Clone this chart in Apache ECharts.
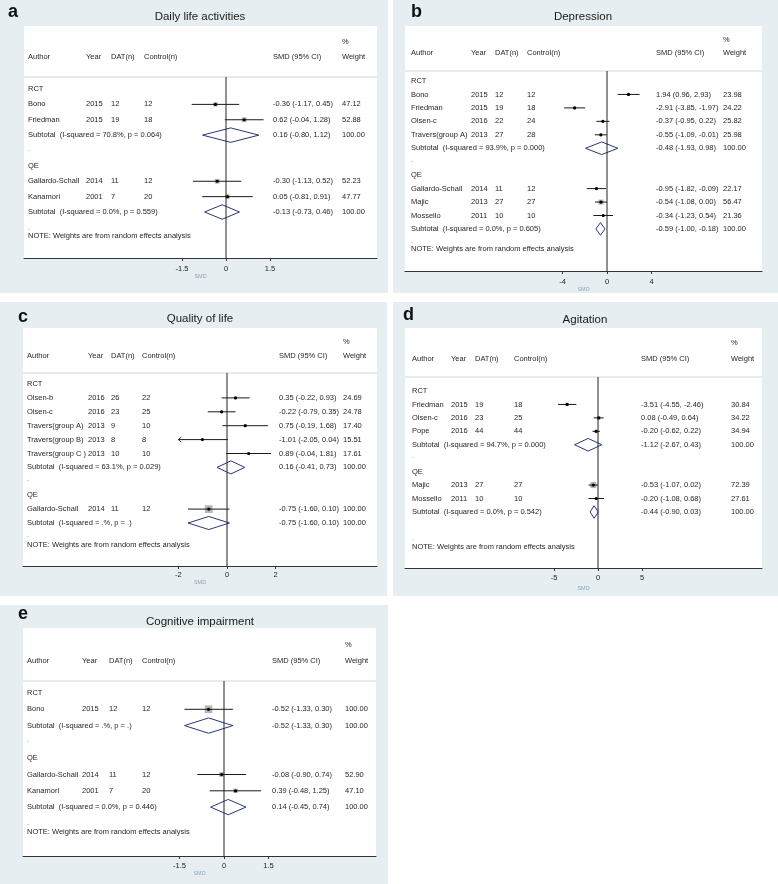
<!DOCTYPE html>
<html><head><meta charset="utf-8">
<script src="https://cdn.jsdelivr.net/npm/echarts@6/dist/echarts.min.js"></script>
<style>html,body{margin:0;padding:0;background:#fff}#c{width:778px;height:884px}</style>
</head><body><div id="c"></div>
<script>
// ---------------- DATA ----------------
const designs = ['RCT', 'QE'];
const panelTitles = ['Daily life activities', 'Depression', 'Quality of life', 'Agitation', 'Cognitive impairment'];
const panelLetters = ['a', 'b', 'c', 'd', 'e'];

// a) Daily life activities
const dailyAuthor = ['Bono', 'Friedman', 'Gallardo-Schall', 'Kanamori'];
const dailyDesign = ['RCT', 'RCT', 'QE', 'QE'];
const dailyYear = [2015, 2015, 2014, 2001];
const dailyDAT = [12, 19, 11, 7];
const dailyCtrl = [12, 18, 12, 20];
const dailySMD = [-0.36, 0.62, -0.30, 0.05];
const dailyLo = [-1.17, -0.04, -1.13, -0.81];
const dailyHi = [0.45, 1.28, 0.52, 0.91];
const dailyWeight = [47.12, 52.88, 52.23, 47.77];
const dailySubSMD = [0.16, -0.13];
const dailySubLo = [-0.80, -0.73];
const dailySubHi = [1.12, 0.46];
const dailySubI2 = [70.8, 0.0];
const dailySubP = [0.064, 0.559];
const dailyTicks = [-1.5, 0, 1.5];

// b) Depression
const depAuthor = ['Bono', 'Friedman', 'Olsen-c', 'Travers(group A)', 'Gallardo-Schall', 'Majic', 'Mossello'];
const depDesign = ['RCT', 'RCT', 'RCT', 'RCT', 'QE', 'QE', 'QE'];
const depYear = [2015, 2015, 2016, 2013, 2014, 2013, 2011];
const depDAT = [12, 19, 22, 27, 11, 27, 10];
const depCtrl = [12, 18, 24, 28, 12, 27, 10];
const depSMD = [1.94, -2.91, -0.37, -0.55, -0.95, -0.54, -0.34];
const depLo = [0.96, -3.85, -0.95, -1.09, -1.82, -1.08, -1.23];
const depHi = [2.93, -1.97, 0.22, -0.01, -0.09, 0.00, 0.54];
const depWeight = [23.98, 24.22, 25.82, 25.98, 22.17, 56.47, 21.36];
const depSubSMD = [-0.48, -0.59];
const depSubLo = [-1.93, -1.00];
const depSubHi = [0.98, -0.18];
const depSubI2 = [93.9, 0.0];
const depSubP = [0.000, 0.605];
const depTicks = [-4, 0, 4];

// c) Quality of life
const qolAuthor = ['Olsen-b', 'Olsen-c', 'Travers(group A)', 'Travers(group B)', 'Travers(group C )', 'Gallardo-Schall'];
const qolDesign = ['RCT', 'RCT', 'RCT', 'RCT', 'RCT', 'QE'];
const qolYear = [2016, 2016, 2013, 2013, 2013, 2014];
const qolDAT = [26, 23, 9, 8, 10, 11];
const qolCtrl = [22, 25, 10, 8, 10, 12];
const qolSMD = [0.35, -0.22, 0.75, -1.01, 0.89, -0.75];
const qolLo = [-0.22, -0.79, -0.19, -2.05, -0.04, -1.60];
const qolHi = [0.93, 0.35, 1.68, 0.04, 1.81, 0.10];
const qolWeight = [24.69, 24.78, 17.40, 15.51, 17.61, 100.00];
const qolSubSMD = [0.16, -0.75];
const qolSubLo = [-0.41, -1.60];
const qolSubHi = [0.73, 0.10];
const qolSubI2 = [63.1, null];
const qolSubP = [0.029, null];
const qolTicks = [-2, 0, 2];

// d) Agitation
const agiAuthor = ['Friedman', 'Olsen-c', 'Pope', 'Majic', 'Mossello'];
const agiDesign = ['RCT', 'RCT', 'RCT', 'QE', 'QE'];
const agiYear = [2015, 2016, 2016, 2013, 2011];
const agiDAT = [19, 23, 44, 27, 10];
const agiCtrl = [18, 25, 44, 27, 10];
const agiSMD = [-3.51, 0.08, -0.20, -0.53, -0.20];
const agiLo = [-4.55, -0.49, -0.62, -1.07, -1.08];
const agiHi = [-2.46, 0.64, 0.22, 0.02, 0.68];
const agiWeight = [30.84, 34.22, 34.94, 72.39, 27.61];
const agiSubSMD = [-1.12, -0.44];
const agiSubLo = [-2.67, -0.90];
const agiSubHi = [0.43, 0.03];
const agiSubI2 = [94.7, 0.0];
const agiSubP = [0.000, 0.542];
const agiTicks = [-5, 0, 5];

// e) Cognitive impairment
const cogAuthor = ['Bono', 'Gallardo-Schall', 'Kanamori'];
const cogDesign = ['RCT', 'QE', 'QE'];
const cogYear = [2015, 2014, 2001];
const cogDAT = [12, 11, 7];
const cogCtrl = [12, 12, 20];
const cogSMD = [-0.52, -0.08, 0.39];
const cogLo = [-1.33, -0.90, -0.48];
const cogHi = [0.30, 0.74, 1.25];
const cogWeight = [100.00, 52.90, 47.10];
const cogSubSMD = [-0.52, 0.14];
const cogSubLo = [-1.33, -0.45];
const cogSubHi = [0.30, 0.74];
const cogSubI2 = [null, 0.0];
const cogSubP = [null, 0.446];
const cogTicks = [-1.5, 0, 1.5];

// ---------------- LAYOUT ----------------
const FONT = '"Liberation Sans", Arial, sans-serif';
const TXT = '#262626';
const BG = '#e6eef1';
const NAVY = '#26387a';

const layouts = [
  {bg:[0,0,388,293], left:24, right:377, top:26, axisY:258, zeroX:226, ppu:29.33, row0:89, step:15.375,
   pctY:42, headY:57, sepY:77, dotY:230, noteY:236, cols:[28,86,111,144,273,342], lblMargin:7, nameGap:15,
   letterXY:[8,12], titleXY:[200,17], clip:null},
  {bg:[393,0,385,293], left:405, right:762, top:26, axisY:271, zeroX:607, ppu:11.12, row0:81, step:13.45,
   pctY:40, headY:53, sepY:71, dotY:243, noteY:249, cols:[411,471,495,527,656,723], lblMargin:7, nameGap:12,
   letterXY:[411,12], titleXY:[583,17], clip:null},
  {bg:[0,302,387,294], left:23, right:377, top:328, axisY:566, zeroX:227, ppu:24.35, row0:384, step:13.9,
   pctY:342, headY:356, sepY:373, dotY:537, noteY:545, cols:[27,88,111,142,279,343], lblMargin:5, nameGap:13,
   letterXY:[18,317], titleXY:[200,319], clip:[-2, 2]},
  {bg:[393,302,385,294], left:405, right:762, top:328, axisY:568, zeroX:598, ppu:8.8, row0:391, step:13.44,
   pctY:343, headY:359, sepY:377, dotY:540, noteY:547, cols:[412,451,475,514,641,731], lblMargin:6, nameGap:17,
   letterXY:[403,315], titleXY:[585,320], clip:null},
  {bg:[0,605,388,279], left:23, right:376, top:628, axisY:856, zeroX:224, ppu:29.7, row0:693, step:16.3,
   pctY:645, headY:661, sepY:681, dotY:825, noteY:832, cols:[27,82,109,142,272,345], lblMargin:6, nameGap:14,
   letterXY:[18,614], titleXY:[200,622], clip:null}
];

const panelData = [
  {author:dailyAuthor, design:dailyDesign, year:dailyYear, dat:dailyDAT, ctrl:dailyCtrl, smd:dailySMD, lo:dailyLo, hi:dailyHi, w:dailyWeight,
   subSMD:dailySubSMD, subLo:dailySubLo, subHi:dailySubHi, subI2:dailySubI2, subP:dailySubP, ticks:dailyTicks},
  {author:depAuthor, design:depDesign, year:depYear, dat:depDAT, ctrl:depCtrl, smd:depSMD, lo:depLo, hi:depHi, w:depWeight,
   subSMD:depSubSMD, subLo:depSubLo, subHi:depSubHi, subI2:depSubI2, subP:depSubP, ticks:depTicks},
  {author:qolAuthor, design:qolDesign, year:qolYear, dat:qolDAT, ctrl:qolCtrl, smd:qolSMD, lo:qolLo, hi:qolHi, w:qolWeight,
   subSMD:qolSubSMD, subLo:qolSubLo, subHi:qolSubHi, subI2:qolSubI2, subP:qolSubP, ticks:qolTicks},
  {author:agiAuthor, design:agiDesign, year:agiYear, dat:agiDAT, ctrl:agiCtrl, smd:agiSMD, lo:agiLo, hi:agiHi, w:agiWeight,
   subSMD:agiSubSMD, subLo:agiSubLo, subHi:agiSubHi, subI2:agiSubI2, subP:agiSubP, ticks:agiTicks},
  {author:cogAuthor, design:cogDesign, year:cogYear, dat:cogDAT, ctrl:cogCtrl, smd:cogSMD, lo:cogLo, hi:cogHi, w:cogWeight,
   subSMD:cogSubSMD, subLo:cogSubLo, subHi:cogSubHi, subI2:cogSubI2, subP:cogSubP, ticks:cogTicks}
];

// ---------------- BUILD ----------------
const f2 = v => v.toFixed(2);
const ciText = (e, l, h) => f2(e) + ' (' + f2(l) + ', ' + f2(h) + ')';

function buildItems(d) {
  const items = [];
  let r = 0;
  designs.forEach((g, gi) => {
    if (gi > 0) { items.push({kind:'dot', row:r}); r++; }
    items.push({kind:'group', row:r, text:g}); r++;
    d.design.forEach((des, i) => { if (des === g) { items.push({kind:'study', row:r, i:i}); r++; } });
    items.push({kind:'sub', row:r, gi:gi}); r++;
  });
  items.push({kind:'frame', row:0});
  items.push({kind:'header', row:0});
  items.push({kind:'note', row:0});
  return items;
}

const grids = [], xAxes = [], yAxes = [], series = [], graphics = [];

layouts.forEach((P, k) => {
  const d = panelData[k];
  const items = buildItems(d);
  const xmin = (P.left - P.zeroX) / P.ppu;
  const xmax = (P.right - P.zeroX) / P.ppu;
  const rowOf = py => (py - P.row0) / P.step;
  const ymin = rowOf(P.top), ymax = rowOf(P.axisY);

  graphics.push({type:'rect', shape:{x:P.bg[0], y:P.bg[1], width:P.bg[2], height:P.bg[3]}, style:{fill:BG}, z:-20});
  graphics.push({type:'rect', shape:{x:P.left, y:P.top, width:P.right-P.left, height:P.axisY-P.top}, style:{fill:'#ffffff'}, z:-19});
  graphics.push({type:'text', x:P.letterXY[0], y:P.letterXY[1], style:{text:panelLetters[k], font:'bold 18px ' + FONT, fill:'#111', align:'left', verticalAlign:'middle'}, z:5});
  graphics.push({type:'text', x:P.titleXY[0], y:P.titleXY[1], style:{text:panelTitles[k], font:'11.5px ' + FONT, fill:'#1a1a1a', align:'center', verticalAlign:'middle'}, z:5});

  grids.push({left:P.left, top:P.top, width:P.right-P.left, height:P.axisY-P.top, containLabel:false, show:false});
  xAxes.push({
    gridIndex:k, type:'value', min:xmin, max:xmax, position:'bottom',
    axisLine:{show:true, onZero:false, lineStyle:{color:'#333', width:1}},
    axisTick:{show:true, customValues:d.ticks, length:3, lineStyle:{color:'#333'}},
    axisLabel:{customValues:d.ticks, fontSize:7.5, fontFamily:FONT, color:'#222', margin:P.lblMargin},
    splitLine:{show:false},
    name:'SMD', nameLocation:'middle', nameGap:P.nameGap,
    nameTextStyle:{fontSize:5.5, fontFamily:FONT, color:'#8ea6b9'}
  });
  yAxes.push({gridIndex:k, type:'value', inverse:true, min:ymin, max:ymax, show:false});

  const C = P.cols;
  series.push({
    type:'custom', xAxisIndex:k, yAxisIndex:k, clip:false, silent:true,
    data: items.map(it => [0, it.row]),
    renderItem: function (params, api) {
      const it = items[params.dataIndex];
      const Y = row => api.coord([0, row])[1];
      const X = v => api.coord([v, 0])[0];
      const els = [];
      const txt = (s, x, y, extra) => els.push({type:'text', style:Object.assign({text:String(s), x:x, y:y, fill:TXT, font:'7.5px ' + FONT, align:'left', verticalAlign:'middle'}, extra || {})});
      const line = (x1, y1, x2, y2, color, w) => els.push({type:'line', shape:{x1:x1, y1:y1, x2:x2, y2:y2}, style:{stroke:color || '#111', lineWidth:w || 1}});
      if (it.kind === 'header') {
        txt('%', C[5], Y(rowOf(P.pctY)));
        const hy = Y(rowOf(P.headY));
        txt('Author', C[0], hy); txt('Year', C[1], hy); txt('DAT(n)', C[2], hy);
        txt('Control(n)', C[3], hy); txt('SMD (95% CI)', C[4], hy); txt('Weight', C[5], hy);
      } else if (it.kind === 'frame') {
        const sy = Y(rowOf(P.sepY));
        line(X(xmin), sy, X(xmax), sy, '#d3d6d8', 1.2);
        line(X(0), sy, X(0), Y(ymax), '#222', 1);
      } else if (it.kind === 'note') {
        txt('.', C[0], Y(rowOf(P.dotY)) - 2, {fill:'#777'});
        txt('NOTE: Weights are from random effects analysis', C[0], Y(rowOf(P.noteY)));
      } else if (it.kind === 'dot') {
        txt('.', C[0], Y(it.row) - 2, {fill:'#777'});
      } else if (it.kind === 'group') {
        txt(it.text, C[0], Y(it.row));
      } else if (it.kind === 'study') {
        const i = it.i, y = Y(it.row);
        txt(d.author[i], C[0], y); txt(d.year[i], C[1], y); txt(d.dat[i], C[2], y); txt(d.ctrl[i], C[3], y);
        txt(ciText(d.smd[i], d.lo[i], d.hi[i]), C[4], y); txt(f2(d.w[i]), C[5], y);
        let lo = d.lo[i], hi = d.hi[i], arrowL = false, arrowR = false;
        if (P.clip) {
          if (lo < P.clip[0]) { lo = P.clip[0]; arrowL = true; }
          if (hi > P.clip[1]) { hi = P.clip[1]; arrowR = true; }
        }
        const s = 7.7 * Math.pow(d.w[i] / 100, 0.75);
        els.push({type:'rect', shape:{x:X(d.smd[i]) - s/2, y:y - s/2, width:s, height:s}, style:{fill:'#b4b4b4'}});
        line(X(lo), y, X(hi), y, '#1a1a1a', 1);
        if (arrowL) { line(X(lo), y, X(lo) + 3, y - 2.5, '#1a1a1a', 0.9); line(X(lo), y, X(lo) + 3, y + 2.5, '#1a1a1a', 0.9); }
        if (arrowR) { line(X(hi), y, X(hi) - 3, y - 2.5, '#1a1a1a', 0.9); line(X(hi), y, X(hi) - 3, y + 2.5, '#1a1a1a', 0.9); }
        els.push({type:'circle', shape:{cx:X(d.smd[i]), cy:y, r:1.6}, style:{fill:'#000'}});
      } else if (it.kind === 'sub') {
        const g = it.gi, y = Y(it.row);
        const i2 = d.subI2[g] === null ? '.' : d.subI2[g].toFixed(1);
        const p = d.subP[g] === null ? '.' : d.subP[g].toFixed(3);
        txt('Subtotal  (I-squared = ' + i2 + '%, p = ' + p + ')', C[0], y);
        txt(ciText(d.subSMD[g], d.subLo[g], d.subHi[g]), C[4], y);
        txt('100.00', C[5], y);
        const h = P.step * 0.47;
        els.push({type:'polygon', shape:{points:[[X(d.subLo[g]), y], [X(d.subSMD[g]), y - h], [X(d.subHi[g]), y], [X(d.subSMD[g]), y + h]]},
          style:{fill:'none', stroke:NAVY, lineWidth:1}});
      }
      return {type:'group', children:els};
    }
  });
});

const chart = echarts.init(document.getElementById('c'), null, {renderer:'canvas'});
chart.setOption({
  backgroundColor:'#ffffff',
  animation:false,
  grid:grids, xAxis:xAxes, yAxis:yAxes, series:series,
  graphic:{elements:graphics}
});
</script>
</body></html>
